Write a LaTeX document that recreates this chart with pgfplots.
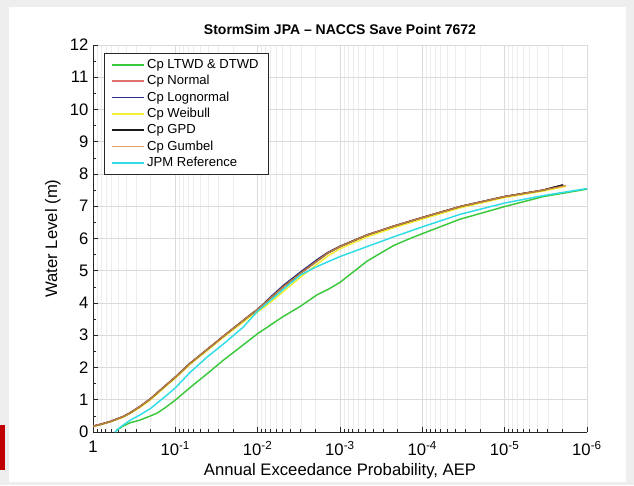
\documentclass[border=0pt]{standalone}
\usepackage{fontspec}
\setmainfont{Liberation Sans}
\usepackage{pgfplots}
\pgfplotsset{compat=1.18}

\definecolor{cgreen}{HTML}{3CC83C}
\definecolor{cnormal}{HTML}{E07070}
\definecolor{clogn}{HTML}{2E2E88}
\definecolor{cweib}{HTML}{F2EE30}
\definecolor{cgpd}{HTML}{1A1A1A}
\definecolor{cgumb}{HTML}{DC9048}
\definecolor{ccyan}{HTML}{30DDE6}
\definecolor{axgray}{HTML}{262626}

\begin{document}
\begin{tikzpicture}
% page: 634 x 485 px at 0.75pt per px
\path[use as bounding box, fill=gray!13] (0,0) rectangle (475.5pt,363.75pt);
\fill[white] (6.75pt,2.25pt) rectangle (469.5pt,358.5pt);
\fill[red!75!black] (0,11.25pt) rectangle (3.75pt,45pt);

\begin{axis}[
    at={(69.75pt,39.75pt)}, anchor=south west,
    width=370.5pt, height=290.25pt, scale only axis,
    xmode=log, x dir=reverse,
    xmin=1e-6, xmax=1, ymin=0, ymax=12,
    xtick={1,0.1,0.01,0.001,1e-4,1e-5,1e-6},
    xticklabels={1,10\textsuperscript{-1},10\textsuperscript{-2},10\textsuperscript{-3},10\textsuperscript{-4},10\textsuperscript{-5},10\textsuperscript{-6}},
    minor xtick={2e-6,3e-6,4e-6,5e-6,6e-6,7e-6,8e-6,9e-6,
                 2e-5,3e-5,4e-5,5e-5,6e-5,7e-5,8e-5,9e-5,
                 2e-4,3e-4,4e-4,5e-4,6e-4,7e-4,8e-4,9e-4,
                 2e-3,3e-3,4e-3,5e-3,6e-3,7e-3,8e-3,9e-3,
                 2e-2,3e-2,4e-2,5e-2,6e-2,7e-2,8e-2,9e-2,
                 2e-1,3e-1,4e-1,5e-1,6e-1,7e-1,8e-1,9e-1},
    ytick={0,1,...,12}, minor y tick num=1,
    /pgf/number format/assume math mode=true,
    ticklabel style={font=\fontsize{12.5}{14}\selectfont},
    xticklabel style={yshift=-3.5pt},
    axis lines=left, axis line style={-, axgray, line width=0.5pt},
    tick align=inside, tick style={axgray, line width=0.4pt},
    major tick length=4pt, minor tick length=2.2pt,
    grid=major, xminorgrids=true,
    major grid style={line width=0.4pt, draw=gray!28},
    minor grid style={line width=0.3pt, draw=gray!14},
    title={StormSim JPA – NACCS Save Point 7672},
    title style={font=\bfseries\fontsize{10.5}{12}\selectfont, yshift=-2pt},
    xlabel={Annual Exceedance Probability, AEP},
    ylabel={Water Level (m)},
    label style={font=\fontsize{12.5}{14}\selectfont},
    xlabel style={yshift=1pt},
    legend style={at={(0.022,0.979)}, anchor=north west, draw=axgray,
        line width=0.5pt, font=\fontsize{9.8}{11.5}\selectfont,
        inner xsep=5pt, inner ysep=2.5pt, row sep=-0.3pt, cells={anchor=west}},
    legend image code/.code={\draw[#1, line width=1.2pt] (0pt,0pt) -- (24pt,0pt);},
    every axis plot/.append style={line width=1.1pt},
]
% Cp LTWD & DTWD
\addplot[cgreen] coordinates {(0.525,0.05) (0.468,0.12) (0.427,0.19) (0.35,0.29) (0.269,0.37) (0.209,0.48) (0.168,0.58) (0.13,0.77) (0.1,0.99) (0.0661,1.38) (0.04,1.83) (0.0263,2.22) (0.015,2.7) (0.01,3.05) (0.0049,3.58) (0.00302,3.9) (0.00191,4.25) (0.0014,4.42) (0.001,4.64) (7e-4,4.95) (4.68e-4,5.3) (2.24e-4,5.78) (1.41e-4,6.0) (1e-4,6.15) (3.47e-5,6.6) (1e-5,6.99) (3.39e-6,7.3) (1e-6,7.53)};
\addlegendentry{Cp LTWD \& DTWD}
% Cp Normal
\addplot[cnormal] coordinates {(1,0.18) (0.8,0.24) (0.622,0.32) (0.427,0.48) (0.35,0.6) (0.269,0.79) (0.2,1.03) (0.168,1.2) (0.13,1.45) (0.1,1.7) (0.0661,2.13) (0.04,2.58) (0.0263,2.96) (0.0123,3.63) (0.01,3.8) (0.007,4.15) (0.0049,4.5) (0.00302,4.92) (0.00191,5.3) (0.0014,5.55) (0.001,5.75) (4.68e-4,6.11) (2.24e-4,6.38) (1e-4,6.65) (3.47e-5,6.99) (1e-5,7.3) (3.39e-6,7.5) (1.95e-6,7.66)};
\addlegendentry{Cp Normal}
% Cp Lognormal
\addplot[clogn] coordinates {(1,0.18) (0.8,0.24) (0.622,0.32) (0.427,0.48) (0.35,0.6) (0.269,0.79) (0.2,1.03) (0.168,1.2) (0.13,1.45) (0.1,1.7) (0.0661,2.13) (0.04,2.58) (0.0263,2.96) (0.0123,3.63) (0.01,3.8) (0.007,4.18) (0.0049,4.54) (0.00302,4.96) (0.00191,5.34) (0.0014,5.57) (0.001,5.76) (4.68e-4,6.11) (2.24e-4,6.38) (1e-4,6.65) (3.47e-5,6.99) (1e-5,7.3) (3.39e-6,7.5) (1.95e-6,7.66)};
\addlegendentry{Cp Lognormal}
% Cp Weibull
\addplot[cweib] coordinates {(1,0.17) (0.8,0.23) (0.622,0.31) (0.427,0.46) (0.35,0.58) (0.269,0.76) (0.2,1.0) (0.168,1.17) (0.13,1.42) (0.1,1.67) (0.0661,2.1) (0.04,2.55) (0.0263,2.93) (0.0123,3.58) (0.01,3.72) (0.007,4.02) (0.0049,4.35) (0.00302,4.8) (0.00191,5.2) (0.0014,5.46) (0.001,5.68) (4.68e-4,6.05) (2.24e-4,6.33) (1e-4,6.6) (3.47e-5,6.95) (1e-5,7.27) (3.39e-6,7.47) (1.8e-6,7.62)};
\addlegendentry{Cp Weibull}
% Cp GPD
\addplot[cgpd] coordinates {(1,0.18) (0.8,0.24) (0.622,0.32) (0.427,0.48) (0.35,0.6) (0.269,0.79) (0.2,1.03) (0.168,1.2) (0.13,1.45) (0.1,1.7) (0.0661,2.13) (0.04,2.58) (0.0263,2.96) (0.0123,3.63) (0.01,3.8) (0.007,4.15) (0.0049,4.5) (0.00302,4.92) (0.00191,5.3) (0.0014,5.55) (0.001,5.75) (4.68e-4,6.11) (2.24e-4,6.38) (1e-4,6.65) (3.47e-5,6.99) (1e-5,7.3) (3.39e-6,7.5) (1.95e-6,7.66)};
\addlegendentry{Cp GPD}
% Cp Gumbel
\addplot[cgumb, opacity=0.85] coordinates {(1,0.18) (0.8,0.24) (0.622,0.32) (0.427,0.48) (0.35,0.6) (0.269,0.79) (0.2,1.03) (0.168,1.2) (0.13,1.45) (0.1,1.7) (0.0661,2.13) (0.04,2.58) (0.0263,2.96) (0.0123,3.63) (0.01,3.8) (0.007,4.15) (0.0049,4.5) (0.00302,4.92) (0.00191,5.3) (0.0014,5.55) (0.001,5.75) (4.68e-4,6.11) (2.24e-4,6.38) (1e-4,6.65) (3.47e-5,6.99) (1e-5,7.3) (3.39e-6,7.5) (1.8e-6,7.64)};
\addlegendentry{Cp Gumbel}
% JPM Reference
\addplot[ccyan] coordinates {(0.541,0.0) (0.48,0.12) (0.427,0.22) (0.35,0.37) (0.269,0.53) (0.2,0.73) (0.168,0.89) (0.13,1.12) (0.1,1.37) (0.0661,1.85) (0.04,2.35) (0.0263,2.72) (0.015,3.25) (0.01,3.75) (0.007,4.08) (0.0049,4.42) (0.00302,4.87) (0.00191,5.13) (0.001,5.44) (4.68e-4,5.75) (2.24e-4,6.05) (1e-4,6.36) (3.47e-5,6.75) (1e-5,7.1) (3.39e-6,7.33) (1e-6,7.55)};
\addlegendentry{JPM Reference}
\end{axis}
\end{tikzpicture}
\end{document}
